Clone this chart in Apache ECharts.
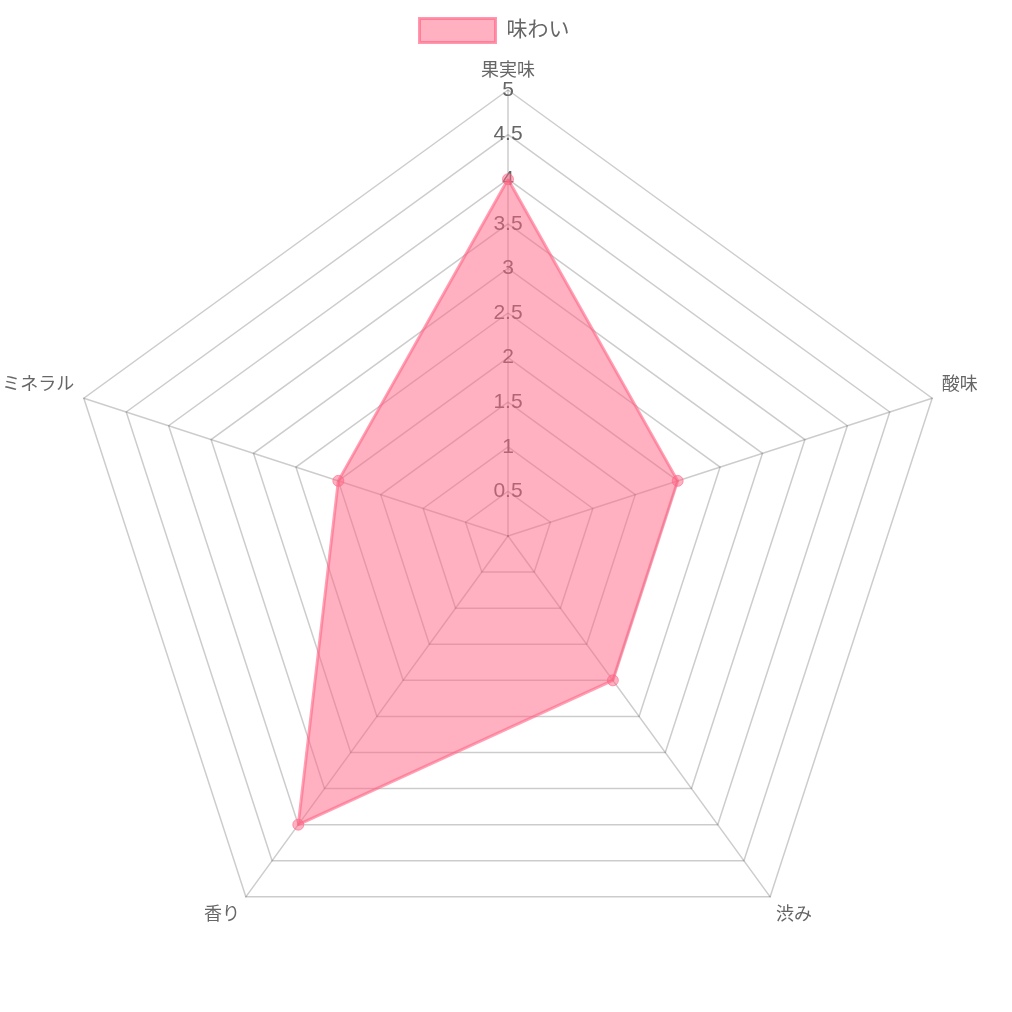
<!DOCTYPE html>
<html><head><meta charset="utf-8">
<script src="https://cdn.jsdelivr.net/npm/echarts@6/dist/echarts.min.js"></script>
<style>html,body{margin:0;padding:0;background:#fff}#c{width:1012px;height:1012px}</style>
</head><body><div id="c"></div>
<script>
const categories = ['果実味', '酸味', '渋み', '香り', 'ミネラル'];
const values = [4, 2, 2, 4, 2];
const seriesName = '味わい';
const axisMax = 5;
const tickStep = 0.5;

// ECharts places indicators counter-clockwise; reorder so they run clockwise like the reference
const order = [0].concat(categories.map((_, i) => i).slice(1).reverse());
const FONT = "'Liberation Sans', 'Noto Sans CJK JP', sans-serif";
const nameStyleKey = { '果実味': 'top', '酸味': 'side', 'ミネラル': 'side', '渋み': 'bottom', '香り': 'bottom' };

const chart = echarts.init(document.getElementById('c'));
chart.setOption({
  animation: false,
  legend: {
    top: 17,
    left: 418,
    padding: 0,
    itemWidth: 76,
    itemHeight: 24,
    itemGap: 10,
    textStyle: { fontSize: 21, color: '#666', fontFamily: FONT, padding: [0, 0, 0, 6] },
    data: [{
      name: seriesName,
      icon: 'rect',
      itemStyle: { color: 'rgba(255,99,132,0.5)', borderColor: 'rgba(255,99,132,0.65)', borderWidth: 3 }
    }]
  },
  radar: {
    center: [508, 536],
    radius: 446,
    startAngle: 90,
    splitNumber: axisMax / tickStep,
    shape: 'polygon',
    nameGap: 10,
    axisName: {
      color: '#666', fontSize: 18, fontFamily: FONT,
      formatter: name => '{' + nameStyleKey[name] + '|' + name + '}',
      rich: {
        top: { color: '#666', fontSize: 18, fontFamily: FONT },
        side: { color: '#666', fontSize: 18, fontFamily: FONT, padding: [0, 0, 20, 0] },
        bottom: { color: '#666', fontSize: 18, fontFamily: FONT, padding: [20, 0, 0, 0] }
      }
    },
    splitArea: { show: false },
    splitLine: { lineStyle: { color: 'rgba(0,0,0,0.2)', width: 1.5 } },
    axisLine: { lineStyle: { color: 'rgba(0,0,0,0.2)', width: 1.5 } },
    axisTick: { show: false },
    axisLabel: {
      show: true,
      showMinLabel: false,
      margin: 0,
      align: 'center',
      verticalAlign: 'middle',
      color: '#666',
      fontSize: 21,
      fontFamily: FONT,
      formatter: v => (v === 0 ? '' : String(v))
    },
    indicator: order.map((i, k) => {
      const ind = { name: categories[i], min: 0, max: axisMax };
      if (k !== 0) ind.axisLabel = { show: false };
      return ind;
    })
  },
  series: [{
    type: 'radar',
    name: seriesName,
    symbol: 'circle',
    symbolSize: 11,
    itemStyle: { color: 'rgba(255,99,132,0.5)', borderColor: 'rgba(255,99,132,0.6)', borderWidth: 1 },
    lineStyle: { color: 'rgba(255,99,132,0.6)', width: 3 },
    areaStyle: { color: 'rgba(255,99,132,0.5)', opacity: 1 },
    data: [{ name: seriesName, value: order.map(i => values[i]) }]
  }]
});
</script></body></html>
